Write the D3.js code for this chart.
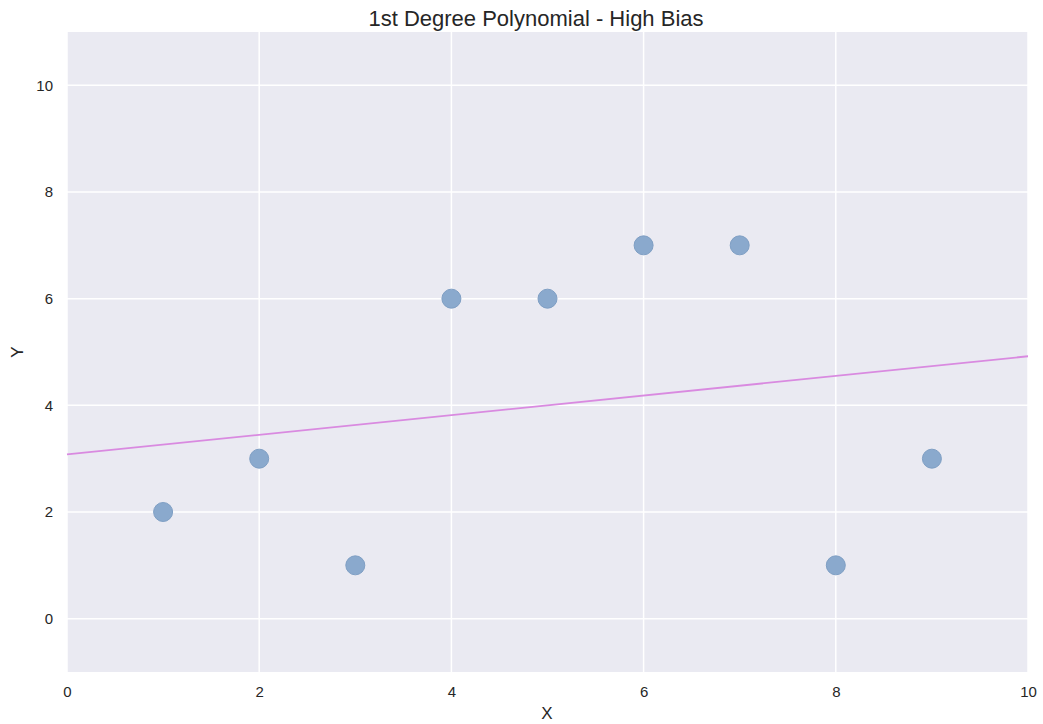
<!DOCTYPE html>
<html><head><meta charset="utf-8">
<script src="https://cdn.jsdelivr.net/npm/d3@7"></script>
<style>body{margin:0;background:#fff;}svg{display:block;}</style>
</head><body>
<svg id="c" width="1043" height="724"></svg>
<script>
const xValues = [1, 2, 3, 4, 5, 6, 7, 8, 9];
const yValues = [2, 3, 1, 6, 6, 7, 7, 1, 3];
const fitX = [0, 10];
const fitY = [3.08, 4.92];
const xTicks = [0, 2, 4, 6, 8, 10];
const yTicks = [0, 2, 4, 6, 8, 10];
const title = "1st Degree Polynomial - High Bias";

const svg = d3.select("#c");
const m = {l: 67, r: 1028, t: 32, b: 672};
const x = d3.scaleLinear().domain([0, 10]).range([m.l, m.r]);
const y = d3.scaleLinear().domain([-1, 11]).range([m.b, m.t]);
const font = "'Liberation Sans', Arial, sans-serif";

svg.append("rect").attr("x", m.l).attr("y", m.t).attr("width", m.r - m.l).attr("height", m.b - m.t).attr("fill", "#eaeaf2");

svg.append("g").selectAll("line").data(xTicks).join("line")
  .attr("x1", d => x(d)).attr("x2", d => x(d)).attr("y1", m.t).attr("y2", m.b)
  .attr("stroke", "#fff").attr("stroke-width", 1.5);
svg.append("g").selectAll("line").data(yTicks).join("line")
  .attr("y1", d => y(d)).attr("y2", d => y(d)).attr("x1", m.l).attr("x2", m.r)
  .attr("stroke", "#fff").attr("stroke-width", 1.5);

const xAxis = svg.append("g").attr("transform", `translate(0,${m.b})`)
  .call(d3.axisBottom(x).tickValues(xTicks).tickSize(0).tickPadding(14));
const yAxis = svg.append("g").attr("transform", `translate(${m.l},0)`)
  .call(d3.axisLeft(y).tickValues(yTicks).tickSize(0).tickPadding(14));
[xAxis, yAxis].forEach(a => {
  a.select(".domain").remove();
  a.selectAll("text").attr("font-family", font).attr("font-size", 15).attr("fill", "#262626");
});

const pts = xValues.map((d, i) => ({x: d, y: yValues[i]}));
svg.append("g").selectAll("circle").data(pts).join("circle")
  .attr("cx", d => x(d.x)).attr("cy", d => y(d.y)).attr("r", 9.5)
  .attr("fill", "#8aa9cd").attr("stroke", "#7f9fc4").attr("stroke-width", 1);

const fit = fitX.map((d, i) => [d, fitY[i]]);
svg.append("path").datum(fit)
  .attr("d", d3.line().x(d => x(d[0])).y(d => y(d[1])))
  .attr("fill", "none").attr("stroke", "#d98ae0").attr("stroke-width", 1.8);

svg.append("text").attr("x", 536).attr("y", 26).attr("text-anchor", "middle")
  .attr("font-family", font).attr("font-size", 22).attr("fill", "#262626").text(title);
svg.append("text").attr("x", 547).attr("y", 719).attr("text-anchor", "middle")
  .attr("font-family", font).attr("font-size", 17).attr("fill", "#262626").text("X");
svg.append("text").attr("transform", "translate(23,352) rotate(-90)").attr("text-anchor", "middle")
  .attr("font-family", font).attr("font-size", 17).attr("fill", "#262626").text("Y");
</script>
</body></html>
